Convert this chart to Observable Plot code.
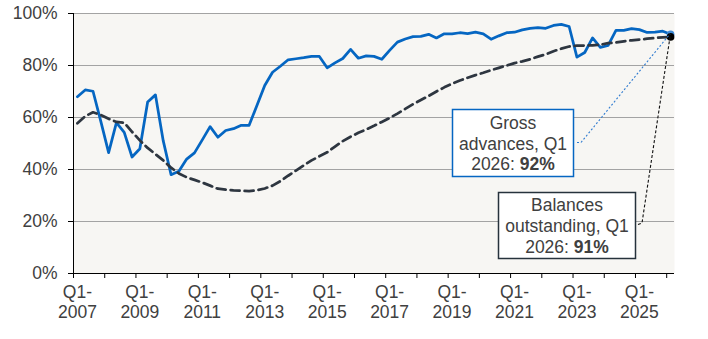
<!DOCTYPE html>
<html>
<head>
<meta charset="utf-8">
<script src="https://cdn.jsdelivr.net/npm/d3@7"></script>
<script src="https://cdn.jsdelivr.net/npm/@observablehq/plot@0.6"></script>
<style>
  html, body { margin: 0; padding: 0; background: #ffffff; }
  #chart svg { display: block; }
</style>
</head>
<body>
<div id="chart"></div>
<script>
// Quarters Q1-2007 … Q1-2026
const years = d3.range(2007, 2027);
const quarters = years.flatMap(y => ["Q1", "Q2", "Q3", "Q4"].map(q => `${q}-${y}`)).slice(0, 77);

// Gross advances (%), quarterly
const grossAdvances = [
  68, 70.6, 70.1, 58.5, 46.5, 58, 54.3, 44.8, 48, 66,
  68.7, 51, 38, 39.3, 44, 46.4, 51.4, 56.5, 52.4, 55,
  55.7, 57, 57, 64.6, 72.3, 77.4, 79.7, 82.2, 82.6, 83,
  83.5, 83.5, 79.1, 81, 82.7, 86.2, 82.8, 83.7, 83.5, 82.4,
  85.8, 89, 90.2, 91.1, 91.2, 92, 90.6, 92.2, 92.2, 92.6,
  92.3, 92.8, 92.2, 90.1, 91.4, 92.6, 92.8, 93.7, 94.3, 94.6,
  94.3, 95.4, 95.8, 95, 83.2, 85, 90.6, 87, 87.7, 93.5,
  93.5, 94.2, 93.8, 92.7, 92.8, 93.2, 92
];

// Balances outstanding (%), quarterly
const balancesOutstanding = [
  57.8, 60.5, 62, 61, 59.5, 58.3, 58, 54.5, 51.2, 48.3,
  45.9, 43.5, 40.7, 38.5, 37, 36, 35, 33.8, 32.6, 32.3,
  32, 31.8, 31.7, 32, 32.7, 33.8, 35.5, 37.6, 39.6, 41.6,
  43.5, 45.1, 46.6, 48.8, 50.9, 52.6, 54.1, 55.4, 56.8, 58.3,
  59.8, 61.5, 63.3, 65.1, 66.7, 68.3, 70, 71.6, 73, 74.2,
  75.3, 76.3, 77.2, 78.2, 79.1, 80, 80.9, 81.6, 82.4, 83.4,
  84.3, 85.5, 86.5, 87.3, 87.6, 87.7, 87.7, 88, 88.6, 88.9,
  89.3, 89.7, 90, 90.3, 90.6, 90.8, 91
];

const yTicks = [0, 20, 40, 60, 80, 100];
const labelYears = [2007, 2009, 2011, 2013, 2015, 2017, 2019, 2021, 2023, 2025];

const rows = quarters.map((q, i) => ({i, q, gross: grossAdvances[i], balances: balancesOutstanding[i]}));
const last = rows[rows.length - 1];
const labelRows = labelYears.map(y => ({i: quarters.indexOf(`Q1-${y}`), text: `Q1-\n${y}`}));
const yearBoundaries = years.map(y => quarters.indexOf(`Q1-${y}`) - 0.5);

const FONT = "Arial, 'Liberation Sans', sans-serif";
const TEXT = "#404040";

const chart = Plot.plot({
  width: 708,
  height: 339,
  marginLeft: 73,
  marginRight: 34,
  marginTop: 13,
  marginBottom: 66,
  style: {fontFamily: FONT, background: "#ffffff"},
  x: {type: "linear", domain: [-0.5, quarters.length - 0.5], label: null},
  y: {domain: [0, 100], label: null},
  marks: [
    Plot.frame({fill: "#f7f6f3", stroke: "none"}),
    Plot.ruleY(yTicks.filter(d => d > 0), {stroke: "#a3a3a3", strokeWidth: 1}),
    Plot.axisY({ticks: yTicks, tickSize: 5, tickPadding: 11, tickFormat: d => `${d}%`,
      fontSize: 17.5, stroke: "black", fill: TEXT, label: null}),
    Plot.axisX({ticks: yearBoundaries, tickSize: 5, tickFormat: () => "", stroke: "black", label: null}),
    Plot.text(labelRows, {x: "i", y: () => 0, text: "text", dy: 10, lineAnchor: "top",
      lineHeight: 1.15, fontSize: 17.5, fill: TEXT}),
    Plot.ruleX([-0.5], {stroke: "black"}),
    Plot.ruleY([0], {stroke: "black"}),
    Plot.line(rows, {x: "i", y: "gross", stroke: "#0566c2", strokeWidth: 2.75, strokeLinejoin: "round"}),
    Plot.line(rows, {x: "i", y: "balances", stroke: "#2e3640", strokeWidth: 2.75, strokeDasharray: "9,5"}),
    Plot.dot([last], {x: "i", y: "gross", r: 3.8, fill: "#3f8ad6", stroke: "none"}),
    Plot.dot([last], {x: "i", y: "balances", r: 3.8, fill: "black", stroke: "none"})
  ]
});

document.getElementById("chart").append(chart);

// Callout boxes for the latest quarter
const sx = chart.scale("x"), sy = chart.scale("y");
const svg = d3.select(chart);
const callouts = [
  {box: [452.5, 109.5, 121, 67], border: "#0566c2", lines: ["Gross", "advances, Q1"], label: "2026: ",
   value: `${Math.round(last.gross)}%`, baselines: [129, 150, 170],
   leader: [[577, 142.5], [581, 142.5], [sx.apply(last.i), sy.apply(last.gross)]],
   leaderStroke: "#2f7bd0", dash: "2,2"},
  {box: [498.5, 192.5, 137, 66], border: "#26323c", lines: ["Balances", "outstanding, Q1"], label: "2026: ",
   value: `${Math.round(last.balances)}%`, baselines: [211, 232, 252.5],
   leader: [[638, 224.5], [642, 223], [sx.apply(last.i), sy.apply(last.balances)]],
   leaderStroke: "#111111", dash: "3,2"}
];

for (const c of callouts) {
  svg.append("path")
    .attr("d", d3.line()(c.leader))
    .attr("fill", "none")
    .attr("stroke", c.leaderStroke)
    .attr("stroke-width", 1.1)
    .attr("stroke-dasharray", c.dash);
  const [bx, by, bw, bh] = c.box;
  svg.append("rect")
    .attr("x", bx).attr("y", by).attr("width", bw).attr("height", bh)
    .attr("fill", "white").attr("stroke", c.border).attr("stroke-width", 1.5);
  const cx = bx + bw / 2;
  const g = svg.append("g")
    .attr("font-family", FONT).attr("font-size", 17.5).attr("fill", TEXT).attr("text-anchor", "middle");
  c.lines.forEach((t, k) => g.append("text").attr("x", cx).attr("y", c.baselines[k]).text(t));
  const t3 = g.append("text").attr("x", cx).attr("y", c.baselines[2]);
  t3.append("tspan").text(c.label);
  t3.append("tspan").attr("font-weight", "bold").text(c.value);
}
</script>
</body>
</html>
